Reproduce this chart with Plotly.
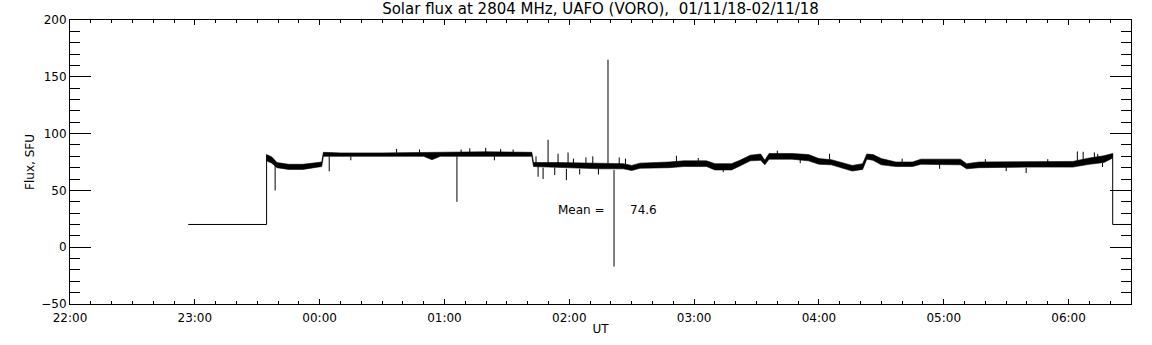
import plotly.graph_objects as go

DAY1 = "2018-11-01"
DAY2 = "2018-11-02"


def ts(hms):
    """Attach the right date to an HH:MM:SS time of this overnight record."""
    return f"{DAY1 if int(hms[:2]) >= 12 else DAY2} {hms}"


# ---- data --------------------------------------------------------------
# flux band (upper / lower envelope of the noisy 1-s record), SFU
band_time = [
    "23:34:30", "23:37:00", "23:39:30", "23:45:00", "23:52:00", "23:58:00",
    "00:01:00", "00:01:48", "00:10:00", "00:30:00", "00:50:00", "00:54:00",
    "00:58:00", "01:20:00", "01:42:00", "01:42:48", "01:55:00", "02:15:00",
    "02:26:00", "02:30:00", "02:34:00", "02:48:00", "02:55:00", "03:06:00",
    "03:10:00", "03:18:00", "03:22:00", "03:27:00", "03:32:00", "03:34:00",
    "03:36:00", "03:47:00", "03:55:00", "04:00:00", "04:06:00", "04:16:00",
    "04:21:00", "04:23:00", "04:26:00", "04:30:00", "04:37:00", "04:45:00",
    "04:49:00", "05:08:00", "05:11:00", "05:17:00", "05:40:00", "06:02:00",
    "06:10:00", "06:17:00", "06:21:12",
]
band_upper = [
    81.5, 79.5, 74.5, 73, 73, 74,
    75, 83.5, 83, 83, 83.5, 83,
    83.5, 84, 83.5, 74.5, 74.5, 74,
    73.5, 72, 74, 75, 76, 76,
    73.5, 73.5, 76.5, 81, 82, 76.5,
    82.5, 82.5, 81.5, 78, 77, 72,
    73.5, 82, 81.5, 78, 75, 75,
    77.5, 77.5, 73.5, 75, 75, 75.5,
    78.5, 80.5, 82.5,
]
band_lower = [
    76, 74, 70, 68.5, 68.5, 70,
    71, 80, 80, 80, 80, 77,
    80, 80, 80, 71, 70, 69,
    69, 67.5, 69.5, 70, 71, 71,
    68, 68, 71.5, 76, 76.5, 72.5,
    77.5, 77.5, 76, 73, 72.5, 67,
    68.5, 77.5, 76.5, 72.5, 71, 71,
    73, 72.5, 69, 70, 70.5, 70.5,
    73, 74.5, 78.5,
]

# isolated spikes: time, level they leave from, level they reach
spike_time = [
    "23:38:36", "00:04:36", "00:15:00", "00:37:00", "00:48:00", "01:06:00",
    "01:08:00", "01:12:10", "01:19:50", "01:24:00", "01:27:00", "01:33:00",
    "01:44:00", "01:45:00", "01:47:24", "01:49:48", "01:53:00", "01:54:36",
    "01:58:36", "01:59:24", "02:02:00", "02:05:00", "02:08:00", "02:11:18",
    "02:14:00", "02:18:36", "02:21:30", "02:24:00", "02:27:00", "02:51:30",
    "03:02:00", "03:14:00", "03:40:00", "03:51:00", "04:05:06", "04:40:00",
    "04:58:00", "05:20:00", "05:30:00", "05:39:36", "05:50:00", "06:04:12",
    "06:07:00", "06:12:24", "06:14:00", "06:16:18",
]
spike_from = [
    72, 80, 80, 83, 83, 80,
    83, 83, 83, 80, 83, 83,
    74, 71, 70, 74, 70, 74,
    69, 74, 74, 69, 74, 74,
    69, 74, 68, 73, 73, 75,
    75, 69, 82, 77, 77, 74,
    73, 74, 71, 70, 74, 75,
    76, 77, 78, 74,
]
spike_to = [
    50, 66.8, 76.5, 86.5, 86, 39.9,
    86, 87, 87.5, 76.5, 86.5, 86,
    80, 62, 60, 94.6, 63.5, 82.3,
    59, 83.4, 78, 64, 79, 80,
    64, 165, -17, 79, 78, 80.5,
    78.5, 66, 85, 74, 82.3, 78,
    69, 77.5, 67, 65.3, 77.5, 84.3,
    84, 83.4, 82, 70.6,
]

# no-data fill level before and after the record
fill_value = 20
fill_start = "22:56:50"
record_start = "23:34:30"
record_end = "06:21:12"
axis_start = "22:00:00"
axis_end = "06:30:00"

mean_flux = 74.6
title_text = "Solar flux at 2804 MHz, UAFO (VORO),  01/11/18-02/11/18"

# ---- figure ---------------------------------------------------------------
FONT = "DejaVu Sans"
bt = [ts(t) for t in band_time]

fig = go.Figure()

# lower envelope, then upper envelope filled down to it
fig.add_trace(go.Scatter(x=bt, y=band_lower, mode="lines",
                         line=dict(color="black", width=0.6),
                         hoverinfo="skip"))
fig.add_trace(go.Scatter(x=bt, y=band_upper, mode="lines",
                         line=dict(color="black", width=0.6),
                         fill="tonexty", fillcolor="black",
                         hoverinfo="skip"))

# spikes as vertical strokes
sx, sy = [], []
for t, a, b in zip(spike_time, spike_from, spike_to):
    sx += [ts(t), ts(t), None]
    sy += [a, b, None]
fig.add_trace(go.Scatter(x=sx, y=sy, mode="lines",
                         line=dict(color="black", width=1), hoverinfo="skip"))

# fill level before / after the record
fx = [ts(fill_start), ts(record_start), ts(record_start), None,
      ts(record_end), ts(record_end), ts(axis_end)]
fy = [fill_value, fill_value, band_upper[0], None,
      band_upper[-1], fill_value, fill_value]
fig.add_trace(go.Scatter(x=fx, y=fy, mode="lines",
                         line=dict(color="black", width=1), hoverinfo="skip"))

fig.add_annotation(x=ts("02:18:00"), y=32.5, xref="x", yref="y",
                   text="Mean =", showarrow=False, xanchor="right",
                   yanchor="middle", font=dict(family=FONT, size=12, color="black"))
fig.add_annotation(x=ts("02:28:00"), y=32.5, xref="x", yref="y",
                   text=f"{mean_flux:.1f}", showarrow=False, xanchor="left",
                   yanchor="middle", font=dict(family=FONT, size=12, color="black"))

axis_common = dict(
    showline=True, linecolor="black", linewidth=1, mirror="ticks",
    showgrid=False, zeroline=False, ticks="inside", tickcolor="black",
    tickwidth=1, tickfont=dict(family=FONT, size=12, color="black"),
    automargin=False,
)

fig.update_layout(
    width=1152, height=345,
    margin=dict(l=70, r=21, t=20, b=41),
    paper_bgcolor="white", plot_bgcolor="white",
    showlegend=False,
    title=dict(text=title_text, x=0.5, xref="paper", xanchor="center",
               y=0.975, yref="container", yanchor="middle",
               font=dict(family=FONT, size=15, color="black")),
    xaxis=dict(
        type="date", range=[ts(axis_start), ts(axis_end)],
        tick0=ts(axis_start), dtick=3600000, tickformat="%H:%M",
        ticklen=5, ticklabelstandoff=3,
        minor=dict(dtick=600000, ticks="inside", ticklen=3,
                   tickcolor="black", tickwidth=1),
        title=dict(text="UT", standoff=0,
                   font=dict(family=FONT, size=12, color="black")),
        **axis_common,
    ),
    yaxis=dict(
        range=[-50, 200], tick0=0, dtick=50, ticklen=21,
        minor=dict(dtick=10, ticks="inside", ticklen=10,
                   tickcolor="black", tickwidth=1),
        title=dict(text="Flux, SFU", standoff=4,
                   font=dict(family=FONT, size=12, color="black")),
        **axis_common,
    ),
)

fig.write_html("out.html",
               config={"displayModeBar": False},
               post_script="document.body.style.margin='0';")
